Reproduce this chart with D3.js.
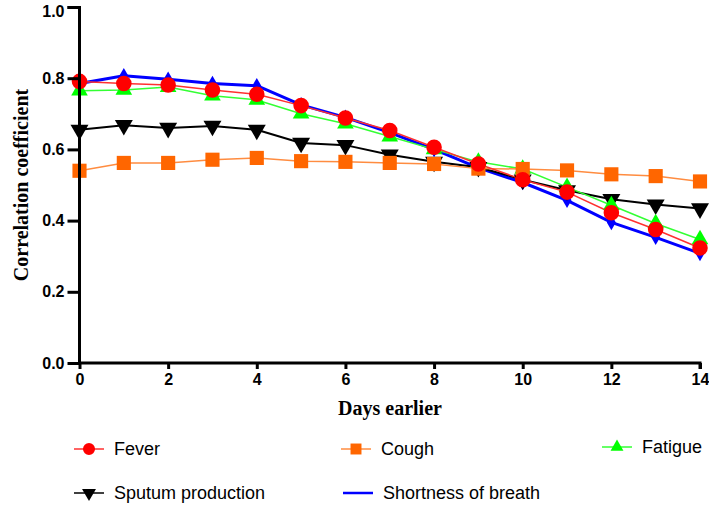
<!DOCTYPE html>
<html><head><meta charset="utf-8">
<script src="https://cdn.jsdelivr.net/npm/d3@7"></script>
<style>body{margin:0;background:#fff}</style>
</head><body>
<svg id="c" width="709" height="505"></svg>
<script>
const days = [0,1,2,3,4,5,6,7,8,9,10,11,12,13,14];
const xTicks = [0,2,4,6,8,10,12,14];
const yTicks = [0.0,0.2,0.4,0.6,0.8,1.0];
const fever    = [0.791,0.785,0.781,0.767,0.755,0.723,0.688,0.653,0.606,0.559,0.515,0.480,0.422,0.375,0.323];
const cough    = [0.540,0.562,0.562,0.571,0.576,0.567,0.565,0.562,0.559,0.546,0.545,0.541,0.530,0.525,0.510];
const fatigue  = [0.765,0.767,0.775,0.751,0.739,0.700,0.672,0.636,0.600,0.565,0.545,0.494,0.443,0.392,0.347];
const sputum   = [0.655,0.668,0.660,0.666,0.655,0.618,0.612,0.585,0.565,0.550,0.515,0.485,0.460,0.445,0.434];
const breath   = [0.785,0.807,0.797,0.785,0.779,0.725,0.690,0.647,0.600,0.548,0.507,0.457,0.395,0.353,0.308];

const series = [
  {name:"Shortness of breath", values:breath, line:"#0000ff", fill:"#0000ff", sym:"diamond", lw:3, size:70, legendMarker:false},
  {name:"Sputum production", values:sputum, line:"#000000", fill:"#000000", sym:"tridown", lw:2, size:140, legendMarker:true},
  {name:"Fatigue", values:fatigue, line:"#33ff33", fill:"#00ff00", sym:"triup", lw:1.5, size:120, legendMarker:true},
  {name:"Cough", values:cough, line:"#ff8c40", fill:"#ff6600", sym:"square", lw:1.5, size:200, legendMarker:true},
  {name:"Fever", values:fever, line:"#ff3030", fill:"#ff0000", sym:"circle", lw:1.5, size:190, legendMarker:true}
];

const svg = d3.select("#c");
const x = d3.scaleLinear().domain([0,14]).range([79.5,700]);
const y = d3.scaleLinear().domain([0,1]).range([363,7]);

function symPath(s, size){
  let t;
  if(s==="circle") t=d3.symbolCircle;
  else if(s==="square") t=d3.symbolSquare;
  else if(s==="diamond") t=d3.symbolDiamond;
  else t=d3.symbolTriangle;
  return d3.symbol().type(t).size(size)();
}
function symTransform(s,px,py){
  if(s==="tridown") return `translate(${px},${py}) rotate(180)`;
  return `translate(${px},${py})`;
}

// lines & markers
const line = d3.line().x((d,i)=>x(days[i])).y(d=>y(d));
series.forEach(s=>{
  svg.append("path").attr("d",line(s.values)).attr("fill","none")
    .attr("stroke",s.line).attr("stroke-width",s.lw).attr("stroke-linejoin","round");
});
series.forEach(s=>{
  svg.append("g").selectAll("path").data(s.values).join("path")
    .attr("d",symPath(s.sym,s.size))
    .attr("transform",(d,i)=>symTransform(s.sym,x(days[i]),y(d)))
    .attr("fill",s.fill);
});

// axes
const yAxis = d3.axisLeft(y).tickValues(yTicks).tickFormat(d3.format(".1f")).tickSize(12).tickPadding(3);
const xAxis = d3.axisBottom(x).tickValues(xTicks).tickFormat(d3.format("d")).tickSize(6).tickPadding(5);
const gy = svg.append("g").attr("transform","translate(79.5,0)").call(yAxis);
const gx = svg.append("g").attr("transform","translate(0,363)").call(xAxis);
[gx,gy].forEach(g=>{
  g.select(".domain").attr("stroke","#000").attr("stroke-width",3);
  g.selectAll(".tick line").attr("stroke","#000").attr("stroke-width",3);
  g.selectAll(".tick text").attr("fill","#000").style("font-family","Liberation Sans, Arial, sans-serif")
    .style("font-weight","bold").style("font-size","16px");
});
gy.selectAll(".tick text").filter(d=>d===1).attr("dy","0.62em");
gy.select(".domain").attr("d","M-12,7.5H0V363.5");
gx.select(".domain").attr("d","M79.5,0H700V6");

// axis titles
svg.append("text").attr("x",390).attr("y",415).attr("text-anchor","middle")
  .style("font-family","Liberation Serif, Times New Roman, serif").style("font-weight","bold").style("font-size","20px")
  .text("Days earlier");
svg.append("text").attr("transform","translate(28,185) rotate(-90)").attr("text-anchor","middle")
  .style("font-family","Liberation Serif, Times New Roman, serif").style("font-weight","bold").style("font-size","20px")
  .text("Correlation coefficient");

// legend
const legendPos = {
  "Fever":[89,449], "Cough":[356,449], "Fatigue":[617,447],
  "Sputum production":[89,493], "Shortness of breath":[358,493]
};
series.forEach(s=>{
  const [lx,ly] = legendPos[s.name];
  const g = svg.append("g");
  g.append("line").attr("x1",lx-15).attr("x2",lx+15).attr("y1",ly).attr("y2",ly)
    .attr("stroke",s.line).attr("stroke-width",s.legendMarker?1.5:2.5);
  if(s.legendMarker){
    g.append("path").attr("d",symPath(s.sym,s.size*0.6)).attr("transform",symTransform(s.sym,lx,ly)).attr("fill",s.fill);
  }
  g.append("text").attr("x",lx+25).attr("y",ly+6)
    .style("font-family","Liberation Sans, Arial, sans-serif").style("font-size","18px").attr("fill","#000")
    .text(s.name);
});
</script>
</body></html>
